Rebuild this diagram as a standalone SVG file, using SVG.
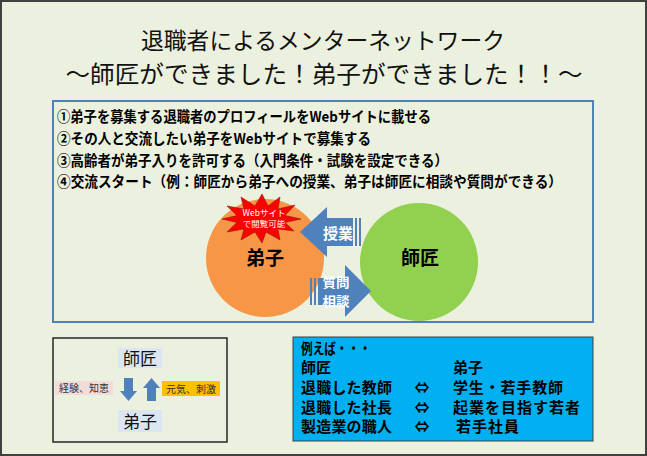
<svg xmlns="http://www.w3.org/2000/svg" width="647" height="456" viewBox="0 0 647 456">
<defs>
<style>
.jp{font-family:"Noto Sans CJK JP","Noto Sans",sans-serif;}
.b{font-weight:bold;}
.c{text-anchor:middle;}
.blue{fill:#4F81BD;}
</style>
</defs>
<rect x="1" y="1" width="645" height="454" fill="#EBF1DE" stroke="#404040" stroke-width="2"/>
<g id="title" class="jp" fill="#111">
<text x="323" y="49" font-size="23" class="c" textLength="364" lengthAdjust="spacingAndGlyphs">退職者によるメンターネットワーク</text>
<text x="324" y="83" font-size="24" class="c" textLength="517" lengthAdjust="spacingAndGlyphs">～師匠ができました！弟子ができました！！～</text>
</g>
<g id="steps">
<rect x="53" y="101" width="540" height="221" fill="none" stroke="#4F81BD" stroke-width="2"/>
<g class="jp b" font-size="14.5" fill="#000">
<text x="57" y="121.5" textLength="374" lengthAdjust="spacingAndGlyphs">①弟子を募集する退職者のプロフィールをWebサイトに載せる</text>
<text x="57" y="143.5" textLength="314" lengthAdjust="spacingAndGlyphs">②その人と交流したい弟子をWebサイトで募集する</text>
<text x="57" y="165.5" textLength="391" lengthAdjust="spacingAndGlyphs">③高齢者が弟子入りを許可する（入門条件・試験を設定できる）</text>
<text x="57" y="187" textLength="505" lengthAdjust="spacingAndGlyphs">④交流スタート（例：師匠から弟子への授業、弟子は師匠に相談や質問ができる）</text>
</g>
</g>
<g id="deshi">
<circle cx="265" cy="258" r="59" fill="#F79646"/>
<text x="265" y="265" class="jp b c" font-size="19" fill="#000">弟子</text>
</g>
<g id="shisho">
<circle cx="419" cy="262" r="59" fill="#92D050"/>
<text x="420" y="265" class="jp b c" font-size="19" fill="#000">師匠</text>
</g>
<g id="web-star">
<polygon points="301,219 285,222.5 294,231 278,229 280,240 266,232 262,243 255,232 241,240 244,229 227,232 237,222.5 222,219 237,215.5 227,206 244,209 241,197 255,206 262,194 268,206 280,197 278,209 295,205 285,215.5" fill="#FF0000" stroke="#8B1A1A" stroke-width="0.6"/>
<text x="264" y="215.5" class="jp c" font-size="8.5" fill="#FFFFFF">Webサイト</text>
<text x="264" y="227" class="jp c" font-size="8.5" fill="#FFFFFF">で閲覧可能</text>
</g>
<g id="connectors">
<g id="arrow-jugyo">
<polygon class="blue" points="300,232 327,207 327,218 353,218 353,246 327,246 327,257"/>
<rect class="blue" x="355" y="218" width="2" height="28"/>
<rect class="blue" x="359" y="218" width="2" height="28"/>
<text x="338" y="239" class="jp b c" font-size="15" fill="#FFFFFF">授業</text>
</g>
<g id="arrow-shitsumon">
<polygon class="blue" points="371,291 345,265 345,278 318,278 318,305 345,305 345,317"/>
<rect class="blue" x="310" y="278" width="2" height="27"/>
<rect class="blue" x="314" y="278" width="2" height="27"/>
<text x="336" y="286.5" class="jp b c" font-size="13" fill="#FFFFFF" textLength="27" lengthAdjust="spacingAndGlyphs">質問</text>
<text x="336" y="305.5" class="jp b c" font-size="13" fill="#FFFFFF" textLength="27" lengthAdjust="spacingAndGlyphs">相談</text>
</g>
</g>
<g id="cycle-box">
<rect x="53" y="338" width="174" height="104" fill="none" stroke="#262626" stroke-width="1.5"/>
<rect x="118" y="348" width="44" height="20" fill="#DCE6F2"/>
<text x="140" y="364.5" class="jp c" font-size="17" fill="#111">師匠</text>
<rect x="118" y="410" width="44" height="22" fill="#DCE6F2"/>
<text x="140" y="427.5" class="jp c" font-size="17" fill="#111">弟子</text>
<polygon class="blue" points="124,378 133,378 133,391 137,391 128.5,401 120,391 124,391"/>
<polygon class="blue" points="151.5,378 160,388 156,388 156,401 147,401 147,388 143,388"/>
<rect x="55" y="381" width="58" height="14" fill="#F2DCDB"/>
<text x="84" y="392" class="jp c" font-size="10" fill="#333">経験、知恵</text>
<rect x="162" y="381" width="58" height="15" fill="#FFC000"/>
<text x="191" y="392.5" class="jp c" font-size="10" fill="#333">元気、刺激</text>
</g>
<g id="examples">
<rect x="293" y="337" width="300" height="104" fill="#00B0F0" stroke="#404040" stroke-width="1"/>
<g class="jp b" font-size="15" fill="#000">
<text x="301" y="354" textLength="70" lengthAdjust="spacingAndGlyphs">例えば・・・</text>
<text x="301" y="373">師匠</text>
<text x="453" y="373">弟子</text>
<text x="301" y="393" textLength="91">退職した教師</text>
<text x="422" y="393" class="c">⇔</text>
<text x="453" y="393" textLength="110">学生・若手教師</text>
<text x="301" y="412.5" textLength="91">退職した社長</text>
<text x="422" y="412.5" class="c">⇔</text>
<text x="453" y="412.5" textLength="127">起業を目指す若者</text>
<text x="301" y="432" textLength="91">製造業の職人</text>
<text x="422" y="432" class="c">⇔</text>
<text x="456" y="432" textLength="63">若手社員</text>
</g>
</g>
</svg>
